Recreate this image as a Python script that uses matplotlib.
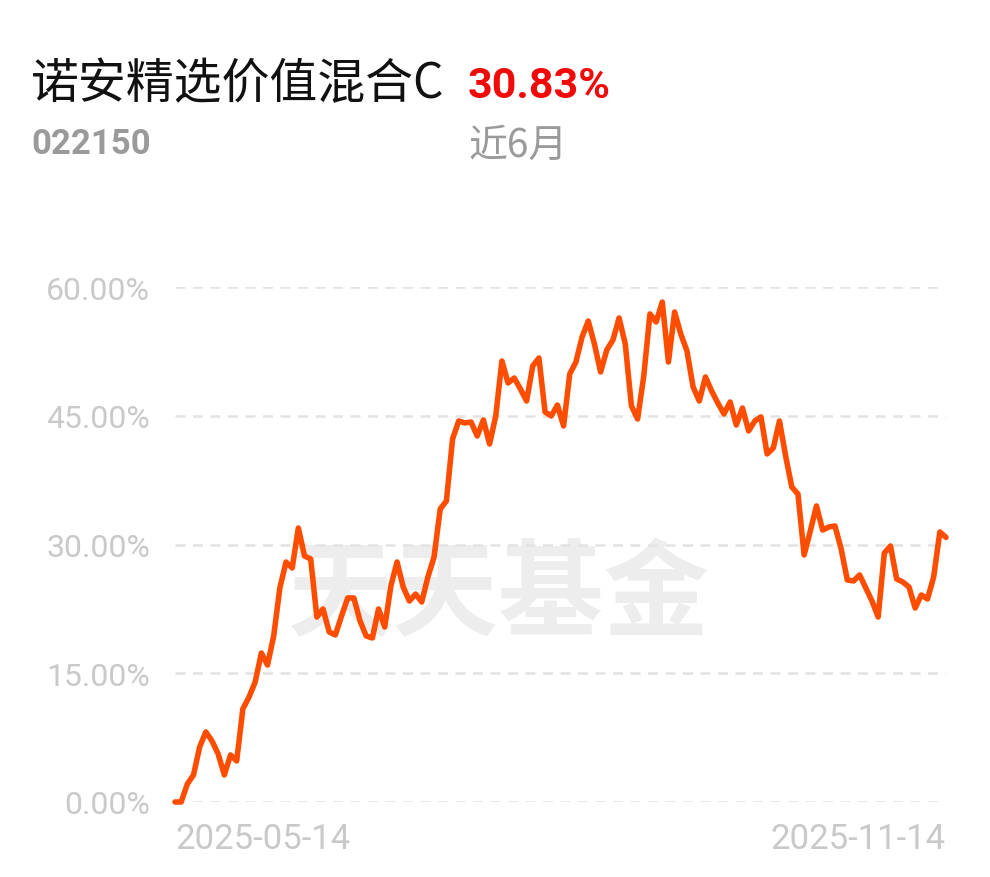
import matplotlib

matplotlib.use("Agg")
import matplotlib.pyplot as plt
from matplotlib.transforms import blended_transform_factory

# fund return over the last 6 months (%), one value per trading day
returns = [
    0.00, 0.00, 2.10, 3.15, 6.41, 8.16, 7.11, 5.59, 3.15, 5.48,
    4.78, 10.84, 12.23, 13.98, 17.36, 15.96, 19.34, 24.93, 27.96, 27.26,
    31.92, 28.66, 28.31, 21.55, 22.49, 19.81, 19.46, 21.67, 23.77, 23.77,
    21.09, 19.34, 19.11, 22.49, 20.39, 25.17, 27.96, 25.05, 23.42, 24.23,
    23.30, 26.21, 28.54, 34.14, 35.07, 42.29, 44.39, 44.16, 44.27, 42.64,
    44.51, 41.71, 44.97, 51.38, 48.82, 49.40, 48.12, 46.72, 50.80, 51.73,
    45.44, 44.97, 46.25, 43.81, 49.87, 51.26, 54.18, 56.04, 53.36, 50.10,
    52.66, 53.83, 56.39, 53.36, 46.14, 44.62, 49.63, 56.86, 55.92, 58.25,
    51.26, 57.09, 54.53, 52.55, 48.35, 46.72, 49.52, 47.89, 46.49, 45.21,
    46.60, 43.92, 45.90, 43.23, 44.39, 44.86, 40.55, 41.24, 44.39, 40.31,
    36.70, 35.88, 28.78, 31.57, 34.49, 31.69, 32.04, 32.16, 29.48, 25.87,
    25.75, 26.45, 24.93, 23.42, 21.55, 29.01, 29.83, 25.98, 25.63, 25.05,
    22.60, 24.12, 23.65, 26.21, 31.46, 30.83,
]
y_ticks = [0, 15, 30, 45, 60]
y_labels = ["0.00%", "15.00%", "30.00%", "45.00%", "60.00%"]
start_date = "2025-05-14"
end_date = "2025-11-14"

fund_name = "诺安精选价值混合C"
fund_code = "022150"
total_return = "30.83%"
period = "近6月"

W, H = 990, 878
CJK = ["Noto Sans CJK SC", "DejaVu Sans"]
NUM = ["Roboto", "DejaVu Sans"]
LINE = "#ff4d00"
GREY = "#c9c9c9"


def fx(px):
    return px / W


def fy(py):
    return 1 - py / H


fig = plt.figure(figsize=(W / 100, H / 100), dpi=100)
ax = fig.add_axes([fx(175), fy(803), fx(946) - fx(175), fy(288) - fy(803)])

x = list(range(len(returns)))
ax.set_xlim(0, len(returns) - 1)
ax.set_ylim(0, 60)

for v in y_ticks:
    ax.axhline(v, color="#e3e3e3", lw=1.8, ls=(0, (4, 3)), zorder=1)

ax.text(0.42, 0.40, "天天基金", transform=ax.transAxes, ha="center", va="center",
        fontsize=76, fontweight="bold", color="#ededed", family=CJK, zorder=0)

ax.plot(x, returns, color=LINE, lw=4.0, solid_joinstyle="round",
        solid_capstyle="round", zorder=3, clip_on=False)

ax.set_yticks(y_ticks)
ax.set_yticklabels(y_labels, family=NUM, fontsize=23, color=GREY)
ax.tick_params(axis="y", length=0, pad=18)
ax.set_xticks([])
for s in ax.spines.values():
    s.set_visible(False)

trans = blended_transform_factory(ax.transData, fig.transFigure)
ax.text(0, fy(840), start_date, transform=trans, ha="left", va="center",
        family=NUM, fontsize=25, color=GREY)
ax.text(len(returns) - 1, fy(840), end_date, transform=trans, ha="right",
        va="center", family=NUM, fontsize=25, color=GREY)

fig.text(fx(31), fy(84), fund_name, ha="left", va="center", family=CJK,
         fontsize=34.5, color="#111111")
fig.text(fx(468), fy(86), total_return, ha="left", va="center", family=NUM,
         fontsize=31, fontweight="bold", color="#f00a0a")
fig.text(fx(31), fy(145), fund_code, ha="left", va="center", family=NUM,
         fontsize=25, fontweight="bold", color="#9a9a9a")
fig.text(fx(468), fy(146), period, ha="left", va="center", family=CJK,
         fontsize=28, color="#9a9a9a")

fig.savefig("out.png", dpi=100)
